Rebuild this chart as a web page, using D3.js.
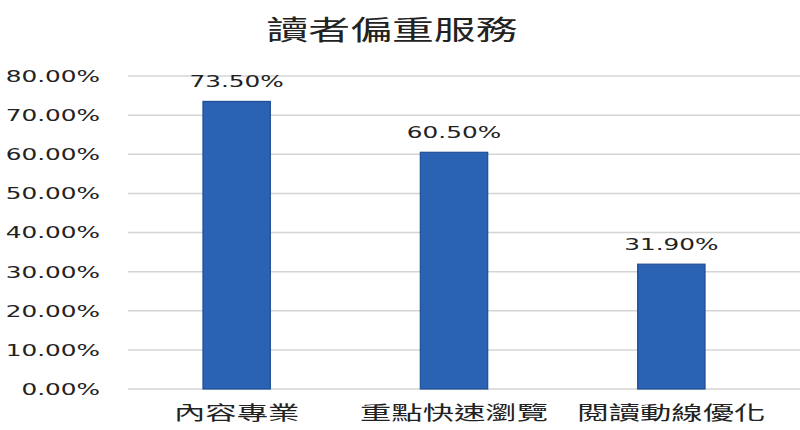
<!DOCTYPE html>
<html>
<head>
<meta charset="utf-8">
<script src="https://cdn.jsdelivr.net/npm/d3@7"></script>
<style>
  body { margin: 0; background: #fff; }
  text { fill: #222; }
</style>
</head>
<body>
<div id="chart"></div>
<script>
// chart data
let title = "讀者偏重服務";
let categories = ["內容專業", "重點快速瀏覽", "閱讀動線優化"];
let values = [0.735, 0.605, 0.319];
let yTicks = [0, 0.1, 0.2, 0.3, 0.4, 0.5, 0.6, 0.7, 0.8];

let width = 800, height = 430;
let margin = {top: 76, right: 20, bottom: 41, left: 128};

// the reference text is stretched sideways, so squeeze it back with a scale
let stretch = 1.65;
let latin = "'DejaVu Sans', Verdana, sans-serif";
let cjk = "'Noto Sans CJK TC', 'Noto Sans CJK SC', sans-serif";

let svg = d3.select("#chart")
  .append("svg")
    .attr("width", width)
    .attr("height", height);

let x = d3.scaleBand()
  .domain(categories)
  .range([margin.left, 780])
  .paddingInner(0.69)
  .paddingOuter(0.345);

let y = d3.scaleLinear()
  .domain([0, 0.8])
  .range([height - margin.bottom, margin.top]);

let pct = d3.format(".2%");

// gridlines
svg.append("g")
  .selectAll("line")
  .data(yTicks)
  .enter().append("line")
    .attr("x1", margin.left)
    .attr("x2", width)
    .attr("y1", d => y(d))
    .attr("y2", d => y(d))
    .attr("stroke", "#d4d4d4")
    .attr("stroke-width", 1.5);

// y axis labels
let yAxis = d3.axisLeft(y).tickValues(yTicks).tickFormat(pct).tickSize(0).tickPadding(0);
let yg = svg.append("g")
  .attr("transform", "translate(100,0)")
  .call(yAxis);
yg.select(".domain").remove();
yg.selectAll(".tick text")
  .attr("font-family", latin)
  .attr("font-size", 15)
  .attr("fill", "#222")
  .attr("dy", "0.36em")
  .attr("transform", "scale(" + stretch + ",1)");

// bars
svg.append("g")
  .selectAll("rect")
  .data(values)
  .enter().append("rect")
    .attr("x", (d, i) => x(categories[i]))
    .attr("y", d => y(d))
    .attr("width", x.bandwidth())
    .attr("height", d => y(0) - y(d))
    .attr("fill", "#2a62b4")
    .attr("stroke", "#1f4f94")
    .attr("stroke-width", 1.2);

// value labels
svg.append("g")
  .selectAll("g")
  .data(values)
  .enter().append("g")
    .attr("transform", (d, i) => "translate(" + (x(categories[i]) + x.bandwidth() / 2) + "," + (y(d) - 14) + ") scale(" + stretch + ",1)")
  .append("text")
    .attr("text-anchor", "middle")
    .attr("font-family", latin)
    .attr("font-size", 15)
    .text(d => pct(d));

// x axis labels
let xAxis = d3.axisBottom(x).tickSize(0).tickPadding(0);
let xg = svg.append("g")
  .attr("transform", "translate(0," + (y(0) + 31) + ")")
  .call(xAxis);
xg.select(".domain").remove();
xg.selectAll(".tick text")
  .attr("font-family", cjk)
  .attr("font-size", 19)
  .attr("fill", "#222")
  .attr("dy", 0)
  .attr("transform", "scale(" + stretch + ",1)");

// title
svg.append("g")
  .attr("transform", "translate(392,40) scale(1.55,1)")
  .append("text")
    .attr("text-anchor", "middle")
    .attr("font-family", cjk)
    .attr("font-size", 27)
    .text(title);
</script>
</body>
</html>
